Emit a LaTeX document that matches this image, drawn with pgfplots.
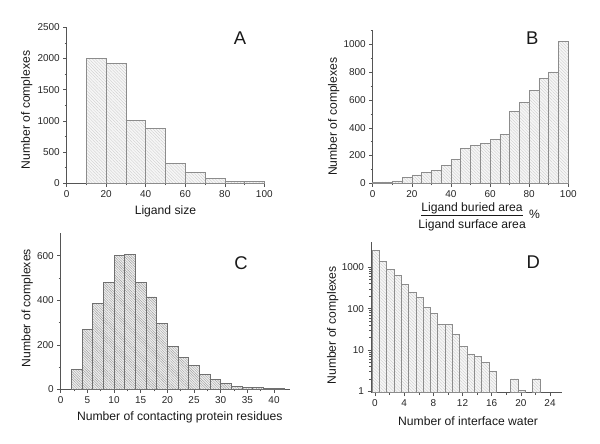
\documentclass[border=0pt]{standalone}
\usepackage{pgfplots}
\pgfplotsset{compat=1.18}
\usepackage{fontspec}
\setmainfont{Liberation Sans}
\usetikzlibrary{patterns.meta}
\definecolor{edge}{HTML}{8C8C8C}
\definecolor{axcol}{HTML}{555555}
\tikzset{letter/.style={font=\fontsize{18.5}{20}\selectfont, text=black!90}}
\pgfplotsset{
  panel/.style={
    scale only axis,
    axis x line*=bottom, axis y line*=left,
    axis line style={axcol, line width=0.6pt},
    tick align=outside,
    major tick length=3.5pt, minor tick length=2pt,
    every tick/.style={axcol, line width=0.5pt},
    tick label style={font=\fontsize{10}{11}\selectfont, text=black!85},
    /pgf/number format/assume math mode=true,
    /pgf/number format/1000 sep={},
    label style={font=\fontsize{12.2}{14}\selectfont, text=black!90},
    clip=false,
  },
  lightbar/.style={ybar interval, draw=edge, line width=0.5pt,
    preaction={fill=gray!7},
    pattern={Lines[angle=-45,distance=2.2pt,line width=0.35pt]}, pattern color=gray!40},
  darkbar/.style={ybar interval, draw=edge!80!black, line width=0.5pt,
    preaction={fill=gray!12},
    pattern={Lines[angle=-45,distance=1.8pt,line width=0.45pt]}, pattern color=gray!75},
}
\begin{document}
\begin{tikzpicture}
\path[use as bounding box] (0,0) rectangle (600bp,444bp);
% Panel A
\begin{axis}[panel, at={(66.7bp,260.7bp)}, anchor=south west,
  width=197.6bp, height=156bp,
  xmin=0, xmax=100, ymin=0, ymax=2500,
  xtick={0,20,...,100}, minor x tick num=1,
  ytick={0,500,...,2500}, minor y tick num=1,
  xlabel={Ligand size}, ylabel={Number of complexes},
  xlabel style={at={(axis description cs:0.5,-0.182)}, anchor=center},
  ylabel style={at={(axis description cs:-0.202,0.47)}, anchor=center},
]
\addplot[lightbar] coordinates {(10,2000)(20,1920)(30,1005)(40,880)(50,320)(60,178)(70,80)(80,33)(90,28)(100,28)};
\node[letter] at (rel axis cs:0.877,0.929) {A};
\end{axis}
% Panel B
\begin{axis}[panel, at={(372.7bp,260.7bp)}, anchor=south west,
  width=195.6bp, height=152.6bp,
  xmin=0, xmax=100, ymin=0, ymax=1100,
  xtick={0,20,...,100}, minor x tick num=1,
  ytick={0,200,...,1000}, minor ytick={100,300,...,1100},
  xlabel={\begin{tabular}{@{}c@{}}\underline{Ligand buried area}\\[2.5pt]Ligand surface area\end{tabular}\rlap{\ \raisebox{2pt}{\%}}},
  ylabel={Number of complexes},
  xlabel style={at={(axis description cs:0.508,-0.222)}, anchor=center},
  ylabel style={at={(axis description cs:-0.199,0.436)}, anchor=center},
]
\addplot[lightbar] coordinates {(0,5)(5,10)(10,17)(15,43)(20,60)(25,79)(30,91)(35,130)(40,173)(45,254)(50,276)(55,288)(60,319)(65,355)(70,520)(75,583)(80,669)(85,758)(90,803)(95,1022)(100,1022)};
\node[letter] at (rel axis cs:0.816,0.954) {B};
\end{axis}
% Panel C
\begin{axis}[panel, at={(60.7bp,54.7bp)}, anchor=south west,
  width=229.3bp, height=155.9bp,
  xmin=0, xmax=43, ymin=0, ymax=700,
  xtick={0,5,...,40}, minor x tick num=1,
  ytick={0,200,400,600}, minor y tick num=1,
  xlabel={Number of contacting protein residues}, ylabel={Number of complexes},
  xlabel style={at={(axis description cs:0.519,-0.178)}, anchor=center},
  ylabel style={at={(axis description cs:-0.146,0.52)}, anchor=center},
]
\addplot[darkbar] coordinates {(2,90)(4,269)(6,385)(8,480)(10,603)(12,606)(14,480)(16,415)(18,296)(20,192)(22,145)(24,106)(26,67)(28,45)(30,28)(32,13)(34,10)(36,10)(38,4)(40,3)(42,3)};
\node[letter] at (rel axis cs:0.786,0.81) {C};
\end{axis}
% Panel D
\begin{axis}[panel, at={(371bp,51.3bp)}, anchor=south west,
  width=191.4bp, height=150.3bp,
  ymode=log, log origin=infty,
  xmin=-0.55, xmax=25.7, ymin=0.925, ymax=4000,
  xtick={0,4,...,24}, minor x tick num=1,
  ytick={1,10,100,1000}, yticklabels={1,10,100,1000},
  xlabel={Number of interface water}, ylabel={Number of complexes},
  xlabel style={at={(axis description cs:0.507,-0.188)}, anchor=center},
  ylabel style={at={(axis description cs:-0.2,0.448)}, anchor=center},
]
\addplot[lightbar] coordinates {(-0.4,2570)(0.6,1396)(1.6,895)(2.6,640)(3.6,388)(4.6,248)(5.6,185)(6.6,108)(7.6,76)(8.6,41)(9.6,42)(10.6,24)(11.6,12)(12.6,8)(13.6,7)(14.6,5)(15.6,3)(16.6,3)};
\addplot[lightbar] coordinates {(18.6,2)(19.6,1.05)(20.6,1.05)};
\addplot[lightbar] coordinates {(21.6,2)(22.6,2)};
\node[letter] at (rel axis cs:0.848,0.87) {D};
\end{axis}
\end{tikzpicture}
\end{document}
